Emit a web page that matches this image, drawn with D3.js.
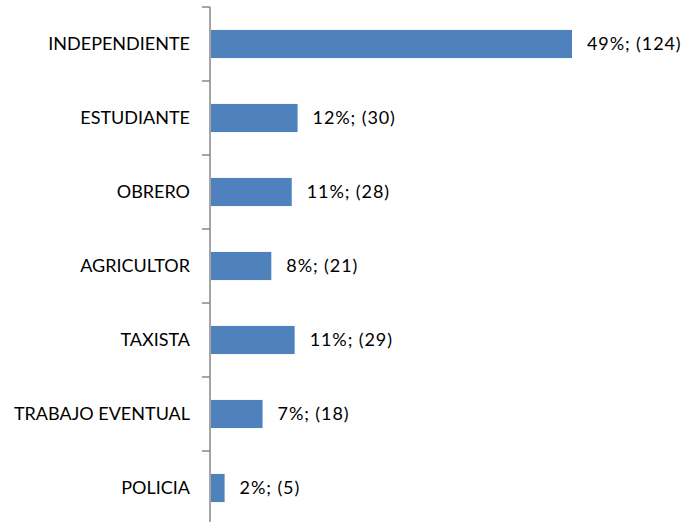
<!DOCTYPE html>
<html>
<head>
<meta charset="utf-8">
<script src="https://cdn.jsdelivr.net/npm/d3@7"></script>
<style>
  body { margin: 0; background: #fff; }
  text { font-family: Lato, "Open Sans", sans-serif; fill: #000; }
</style>
</head>
<body>
<div id="chart"></div>
<script>
// categories top to bottom, counts and percent labels
const categories = ['INDEPENDIENTE', 'ESTUDIANTE', 'OBRERO', 'AGRICULTOR', 'TAXISTA', 'TRABAJO EVENTUAL', 'POLICIA'];
const counts = [124, 30, 28, 21, 29, 18, 5];
const percents = ['49%', '12%', '11%', '8%', '11%', '7%', '2%'];

const svgWidth = 688;
const svgHeight = 522;
const axisX = 210;

const data = categories.map((c, i) => ({ cat: c, count: counts[i], pct: percents[i] }));

const svg = d3.select('#chart')
    .append('svg')
    .attr('width', svgWidth)
    .attr('height', svgHeight);

const x = d3.scaleLinear()
    .domain([0, 124])
    .range([axisX, 572]);

const y = d3.scaleBand()
    .domain(categories)
    .range([7, 7 + 74 * 7])
    .paddingInner(0.62)
    .paddingOuter(0.31);

// bars
svg.selectAll('.bar')
    .data(data).enter()
    .append('rect')
    .attr('class', 'bar')
    .attr('x', x(0) + 1)
    .attr('y', d => y(d.cat))
    .attr('width', d => x(d.count) - x(0) - 1)
    .attr('height', y.bandwidth())
    .style('fill', '#4F81BD');

// value labels
svg.selectAll('.val')
    .data(data).enter()
    .append('text')
    .attr('class', 'val')
    .attr('x', d => x(d.count) + 15)
    .attr('y', d => y(d.cat) + y.bandwidth() / 2)
    .attr('dy', '0.35em')
    .style('font-size', '18px')
    .style('letter-spacing', '0.9px')
    .text(d => `${d.pct}; (${d.count})`);

// category labels
svg.selectAll('.cat')
    .data(data).enter()
    .append('text')
    .attr('class', 'cat')
    .attr('x', 190)
    .attr('y', d => y(d.cat) + y.bandwidth() / 2)
    .attr('dy', '0.35em')
    .style('text-anchor', 'end')
    .style('font-size', '18px')
    .text(d => d.cat);

// vertical axis line and tick marks between categories
const axisColor = '#868686';
svg.append('line')
    .attr('x1', axisX).attr('x2', axisX)
    .attr('y1', 7).attr('y2', svgHeight)
    .style('stroke', axisColor)
    .style('stroke-width', 1.5);

const tickYs = d3.range(categories.length).map(i => 7 + 74 * i);
svg.selectAll('.tick')
    .data(tickYs).enter()
    .append('line')
    .attr('x1', 202).attr('x2', axisX)
    .attr('y1', d => d).attr('y2', d => d)
    .style('stroke', axisColor)
    .style('stroke-width', 1.5);
</script>
</body>
</html>
